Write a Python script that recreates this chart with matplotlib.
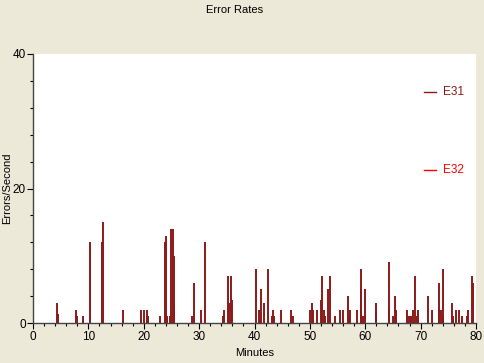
import matplotlib
matplotlib.use("Agg")
import matplotlib.pyplot as plt
from matplotlib.ticker import MultipleLocator

plt.rcParams['font.family'] = ['Liberation Sans', 'DejaVu Sans']

# E31 error spikes: minute, errors/second
e31_minutes = [4.3, 4.5, 7.7, 7.9, 9.1, 10.3, 12.4, 12.6,
               16.3, 19.5, 20.0, 20.5, 20.7, 22.9, 23.8, 24.0, 24.2, 24.8, 25.0, 25.2, 25.4, 25.5,
               28.7, 29.1, 30.4, 31.0, 34.3, 34.5, 35.3, 35.4, 35.8, 36.0,
               40.2, 40.8, 41.1, 41.7, 42.5, 43.1, 43.3, 43.5, 44.7, 46.6, 47.0,
               50.1, 50.3, 50.6, 51.3, 52.0, 52.2, 52.5, 52.8, 53.3, 53.6, 54.5, 55.5, 56.0,
               56.9, 57.0, 57.2, 58.6, 59.2, 59.3, 59.6, 59.9, 61.9, 62.0,
               64.2, 64.35, 65.1, 65.45, 65.5, 67.5, 67.8, 68.1, 68.3, 68.7, 68.9, 69.3, 69.5,
               71.3, 72.0, 73.3, 73.4, 73.7, 74.0, 74.1, 75.7, 75.8, 76.4, 77.0, 77.4, 78.3, 78.5,
               79.3, 79.4]
e31_values = [3, 1.4, 2, 1, 1, 12, 12, 15,
              2, 2, 2, 2, 1, 1, 12, 13, 1, 1, 14, 14, 10, 2,
              1, 6, 2, 12, 1, 2, 7, 3, 7, 3.4,
              8, 2, 5, 3, 8, 1, 2, 1, 2, 2, 1,
              2, 3, 2, 2, 3.4, 7, 2, 1, 5, 7, 1, 2, 2,
              4, 1, 2, 2, 8, 5, 1, 5, 3, 2,
              9, 2.3, 1, 4, 2, 2, 1, 1, 1, 2, 7, 1, 2,
              4, 2, 6, 2, 2, 8, 1, 3, 1, 2, 2, 1, 1, 2,
              7, 6]
# E32 shows no visible spikes
e32_minutes = []
e32_values = []

series_names = ["E31", "E32"]
series_colors = ["#8B1A1A", "#FF0000"]

x_ticks = [0, 10, 20, 30, 40, 50, 60, 70, 80]
y_ticks = [0, 20, 40]

bg = "#ECE9D8"
fig = plt.figure(figsize=(4.85, 3.63), dpi=100, facecolor=bg)
ax = fig.add_axes([33 / 485, 1 - 323 / 363, 443 / 485, 269 / 363])
ax.set_facecolor("white")

ax.vlines(e31_minutes, 0, e31_values, color=series_colors[0], lw=1.4)
if e32_minutes:
    ax.vlines(e32_minutes, 0, e32_values, color=series_colors[1], lw=1.4)

ax.set_xlim(0, 80)
ax.set_ylim(0, 40)
ax.set_xticks(x_ticks)
ax.set_yticks(y_ticks)
ax.xaxis.set_minor_locator(MultipleLocator(2))
ax.yaxis.set_minor_locator(MultipleLocator(4))
ax.tick_params(axis='both', which='major', length=4, width=0.8, labelsize=8.5, pad=2, colors='black')
ax.tick_params(axis='y', which='major', pad=1)
ax.tick_params(axis='both', which='minor', length=2, width=0.8)
for s in ['top', 'right']:
    ax.spines[s].set_visible(False)
for s in ['left', 'bottom']:
    ax.spines[s].set_color('#444444')
    ax.spines[s].set_linewidth(1.0)

ax.set_xlabel("Minutes", fontsize=8, labelpad=3)
fig.text(7.5 / 485, 1 - 188 / 363, "Errors/Second", rotation=90, ha='center', va='center', fontsize=8)
fig.text(235 / 485, 1 - 10 / 363, "Error Rates", ha='center', va='center', fontsize=8)

# legend drawn as short line segments with labels
legend_y = [1 - (92 - 54) / 269, 1 - (170 - 54) / 269]
for name, col, yy in zip(series_names, series_colors, legend_y):
    ax.plot([(424 - 33) / 443, (436 - 33) / 443], [yy, yy], transform=ax.transAxes,
            color=col, lw=1.0, clip_on=False)
    ax.text((443 - 33) / 443, yy, name, transform=ax.transAxes, color=col,
            fontsize=8.5, va='center', ha='left')

fig.savefig("out.png", dpi=100, facecolor=bg)
